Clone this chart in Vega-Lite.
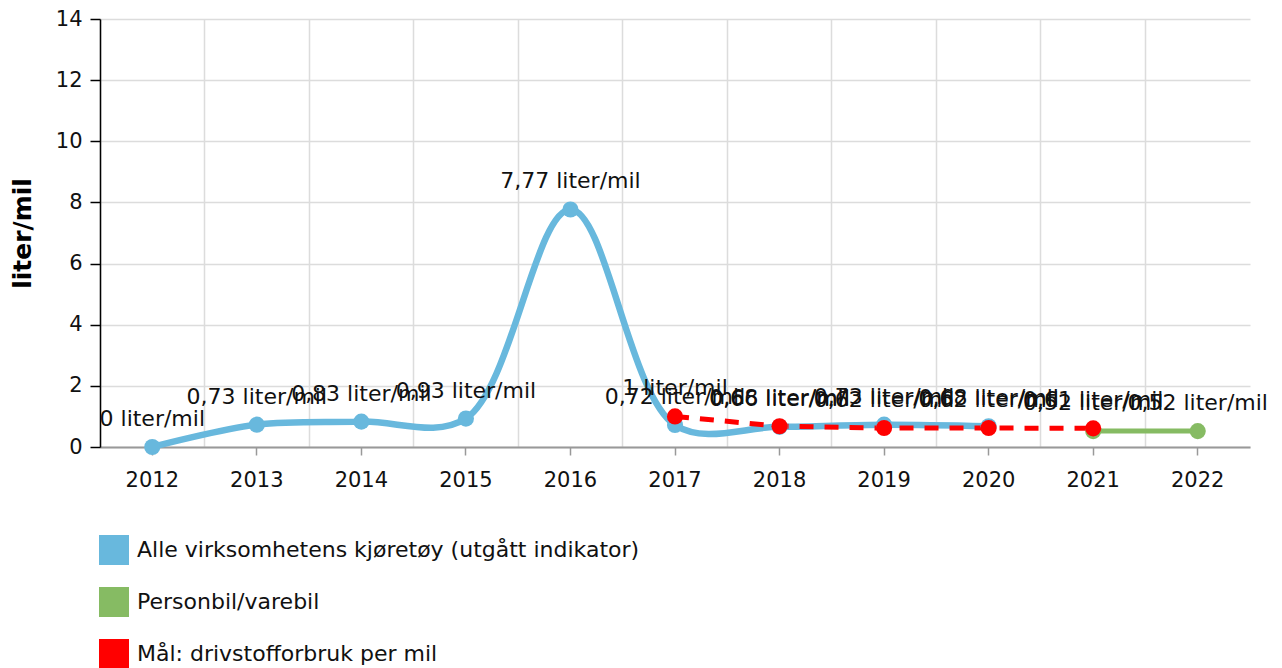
{
  "$schema": "https://vega.github.io/schema/vega-lite/v6.json",
  "width": 1150,
  "height": 428,
  "autosize": "none",
  "padding": {"left": 100, "top": 19, "right": 32, "bottom": 221},
  "background": "white",
  "config": {
    "font": "DejaVu Sans",
    "view": {"stroke": null},
    "axis": {"labelFont": "DejaVu Sans", "labelFontSize": 21, "labelColor": "#111", "titleFont": "DejaVu Sans"}
  },
  "data": {
    "values": [
      {"year": "2012", "series": "Alle virksomhetens kjøretøy (utgått indikator)", "value": 0},
      {"year": "2013", "series": "Alle virksomhetens kjøretøy (utgått indikator)", "value": 0.73},
      {"year": "2014", "series": "Alle virksomhetens kjøretøy (utgått indikator)", "value": 0.83},
      {"year": "2015", "series": "Alle virksomhetens kjøretøy (utgått indikator)", "value": 0.93},
      {"year": "2016", "series": "Alle virksomhetens kjøretøy (utgått indikator)", "value": 7.77},
      {"year": "2017", "series": "Alle virksomhetens kjøretøy (utgått indikator)", "value": 0.72},
      {"year": "2018", "series": "Alle virksomhetens kjøretøy (utgått indikator)", "value": 0.66},
      {"year": "2019", "series": "Alle virksomhetens kjøretøy (utgått indikator)", "value": 0.73},
      {"year": "2020", "series": "Alle virksomhetens kjøretøy (utgått indikator)", "value": 0.68},
      {"year": "2021", "series": "Personbil/varebil", "value": 0.52},
      {"year": "2022", "series": "Personbil/varebil", "value": 0.52},
      {"year": "2017", "series": "Mål: drivstofforbruk per mil", "value": 1},
      {"year": "2018", "series": "Mål: drivstofforbruk per mil", "value": 0.68},
      {"year": "2019", "series": "Mål: drivstofforbruk per mil", "value": 0.62},
      {"year": "2020", "series": "Mål: drivstofforbruk per mil", "value": 0.62},
      {"year": "2021", "series": "Mål: drivstofforbruk per mil", "value": 0.61}
    ]
  },
  "encoding": {
    "y": {
      "field": "value",
      "type": "quantitative",
      "scale": {"domain": [0, 14], "nice": false},
      "axis": {
        "title": "liter/mil",
        "titleFontSize": 25,
        "titleFontWeight": "bold",
        "titleColor": "#000",
        "titlePadding": 20,
        "values": [0, 2, 4, 6, 8, 10, 12, 14],
        "domainColor": "#000",
        "domainWidth": 1.5,
        "tickColor": "#000",
        "tickSize": 10,
        "tickWidth": 1.5,
        "labelPadding": 8,
        "gridColor": "#dcdcdc",
        "gridWidth": 1.5
      }
    }
  },
  "layer": [
    {
      "transform": [{"filter": "datum.series === 'Alle virksomhetens kjøretøy (utgått indikator)'"}],
      "mark": {"type": "line", "interpolate": "catmull-rom", "strokeWidth": 6.5},
      "encoding": {
        "x": {
          "field": "year", "type": "ordinal",
          "scale": {"type": "band", "paddingInner": 0, "paddingOuter": 0, "domain": ["2012","2013","2014","2015","2016","2017","2018","2019","2020","2021","2022"]},
          "axis": {"orient": "bottom", "title": null, "labels": false, "ticks": false, "domain": false, "grid": true, "bandPosition": 0, "gridColor": "#dcdcdc", "gridWidth": 1.5}
        },
        "color": {
          "field": "series", "type": "nominal",
          "scale": {
            "domain": ["Alle virksomhetens kjøretøy (utgått indikator)", "Personbil/varebil", "Mål: drivstofforbruk per mil"],
            "range": ["#68b8dd", "#86bb63", "#ff0000"]
          },
          "legend": {
            "title": null,
            "orient": "none",
            "legendX": -1,
            "legendY": 516,
            "direction": "vertical",
            "symbolType": "square",
            "symbolSize": 900,
            "symbolStrokeWidth": 0,
            "labelFontSize": 22,
            "labelFont": "DejaVu Sans",
            "labelColor": "#111",
            "labelOffset": 8,
            "rowPadding": 22,
            "labelLimit": 700,
            "encode": {"symbols": {"update": {"fill": {"scale": "color", "field": "value"}, "opacity": {"value": 1}}}}
          }
        }
      }
    },
    {
      "transform": [{"filter": "datum.series === 'Personbil/varebil'"}],
      "mark": {"type": "line", "strokeWidth": 5},
      "encoding": {
        "x": {"field": "year", "type": "ordinal", "axis": {"orient": "bottom", "title": null, "grid": false, "domainColor": "#999", "domainWidth": 2, "tickColor": "#999", "tickSize": 8, "tickWidth": 1.5, "labelPadding": 14, "labelAngle": 0}},
        "color": {"field": "series", "type": "nominal"}
      }
    },
    {
      "transform": [{"filter": "datum.series === 'Mål: drivstofforbruk per mil'"}],
      "mark": {"type": "line", "strokeWidth": 5, "strokeDash": [14, 11]},
      "encoding": {
        "x": {"field": "year", "type": "ordinal", "axis": null},
        "color": {"field": "series", "type": "nominal"}
      }
    },
    {
      "mark": {"type": "point", "filled": true, "opacity": 1, "size": 260, "shape": "circle"},
      "encoding": {
        "x": {"field": "year", "type": "ordinal", "axis": null},
        "color": {"field": "series", "type": "nominal"}
      }
    },
    {
      "transform": [{"calculate": "replace(format(datum.value, '.2~f'), '.', ',') + ' liter/mil'", "as": "label"}],
      "mark": {"type": "text", "fontSize": 22, "font": "DejaVu Sans", "color": "#111", "dy": -21, "baseline": "alphabetic", "align": "center"},
      "encoding": {
        "x": {"field": "year", "type": "ordinal", "axis": null},
        "text": {"field": "label"}
      }
    }
  ],
  "resolve": {"axis": {"x": "independent"}}
}
